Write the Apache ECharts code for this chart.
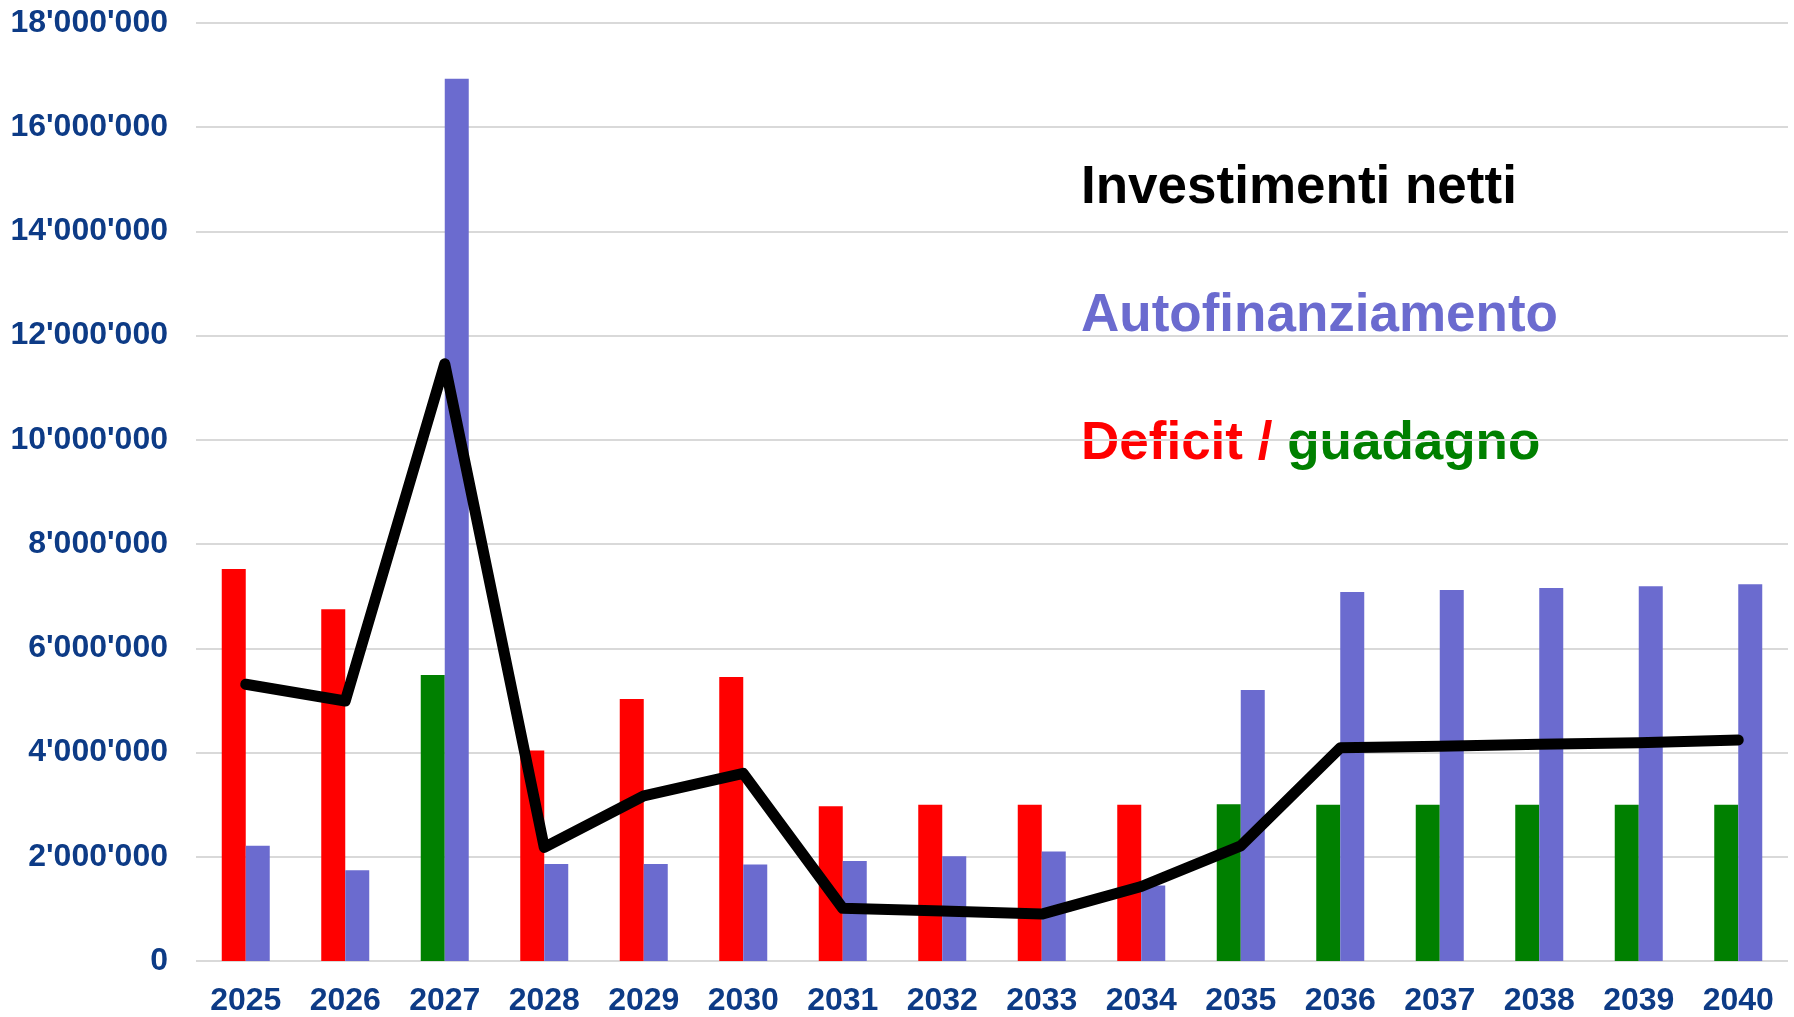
<!DOCTYPE html>
<html>
<head>
<meta charset="utf-8">
<title>Investimenti netti</title>
<script src="https://cdn.jsdelivr.net/npm/echarts@6/dist/echarts.min.js"></script>
<style>
html,body{margin:0;padding:0;background:#fff;}
#chart{width:1794px;height:1017px;}
</style>
</head>
<body>
<div id="chart"></div>
<script>
// anni sull'asse x
var anni = ['2025','2026','2027','2028','2029','2030','2031','2032','2033','2034','2035','2036','2037','2038','2039','2040']
// deficit (rosso) e guadagno (verde), vuoto dove non c'e
var deficit = [7520000,6750000,null,4040000,5030000,5450000,2970000,3000000,3000000,3000000,null,null,null,null,null,null]
var guadagno = [null,null,5490000,null,null,null,null,null,null,null,3010000,3000000,3000000,3000000,3000000,3000000]
// autofinanziamento (barre blu)
var autofin = [2210000,1740000,16930000,1860000,1860000,1850000,1920000,2010000,2100000,1450000,5200000,7080000,7120000,7160000,7190000,7230000]
// investimenti netti (linea nera)
var investimenti = [5310000,4990000,11460000,2180000,3170000,3600000,1010000,960000,900000,1430000,2210000,4090000,4120000,4160000,4190000,4240000]
// asse y
var yMin = 0
var yMax = 18000000
var yPasso = 2000000

var blu = '#6b6bcf'
var rosso = '#ff0000'
var verde = '#008000'
var testoAsse = '#0d3b86'
var fontLegenda = 'bold 53px "Liberation Sans", Arial, sans-serif'

function formatta(v){
    //separatore delle migliaia con apostrofo
    return String(v).replace(/\B(?=(\d{3})+(?!\d))/g, "'")
}

var myChart = echarts.init(document.getElementById('chart'))
var option = {
    animation:false,
    backgroundColor:'#fff',
    grid:{
        left:196,
        right:6,
        top:23,
        bottom:51,
        containLabel:false
    },
    xAxis:{
        type:'category',
        data:anni,
        axisLine:{show:false},
        axisTick:{show:false},
        axisLabel:{
            color:testoAsse,
            fontFamily:'Liberation Sans, Arial, sans-serif',
            fontWeight:'bold',
            fontSize:32,
            margin:24
        }
    },
    yAxis:{
        type:'value',
        min:yMin,
        max:yMax,
        interval:yPasso,
        axisLine:{show:false},
        axisTick:{show:false},
        axisLabel:{
            color:testoAsse,
            fontFamily:'Liberation Sans, Arial, sans-serif',
            fontWeight:'bold',
            fontSize:32,
            margin:28,
            formatter:formatta
        },
        splitLine:{
            lineStyle:{color:'#d9d9d9',width:2}
        }
    },
    series:[
        {
            name:'Deficit',
            type:'bar',
            stack:'saldo',
            barWidth:24,
            barGap:'0%',
            itemStyle:{color:rosso},
            data:deficit
        },
        {
            name:'guadagno',
            type:'bar',
            stack:'saldo',
            barWidth:24,
            barGap:'0%',
            itemStyle:{color:verde},
            data:guadagno
        },
        {
            name:'Autofinanziamento',
            type:'bar',
            barWidth:24,
            barGap:'0%',
            itemStyle:{color:blu},
            data:autofin
        },
        {
            name:'Investimenti netti',
            type:'line',
            z:5,
            showSymbol:false,
            symbol:'none',
            lineStyle:{color:'#000',width:11,cap:'round',join:'round'},
            data:investimenti
        }
    ],
    graphic:[
        {
            type:'text',
            left:1081,
            top:162,
            style:{
                text:'Investimenti netti',
                fill:'#000',
                font:fontLegenda
            }
        },
        {
            type:'text',
            left:1081,
            top:290,
            style:{
                text:'Autofinanziamento',
                fill:blu,
                font:fontLegenda
            }
        },
        {
            type:'text',
            left:1081,
            top:418,
            style:{
                text:'{r|Deficit /} {g|guadagno}',
                font:fontLegenda,
                rich:{
                    r:{fill:rosso,font:fontLegenda},
                    g:{fill:verde,font:fontLegenda}
                }
            }
        }
    ]
}
myChart.setOption(option)
</script>
</body>
</html>
